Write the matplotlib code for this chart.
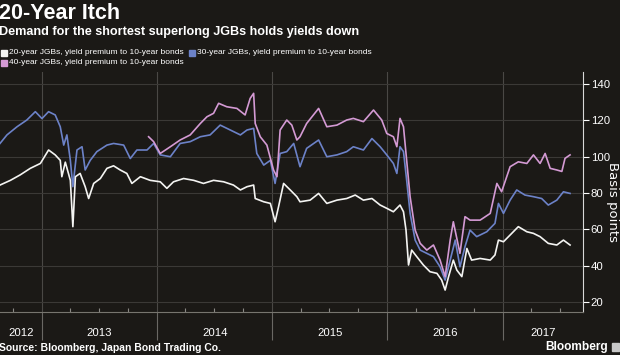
import matplotlib
matplotlib.use("Agg")
import matplotlib.pyplot as plt
import matplotlib.dates as mdates
import pandas as pd
from matplotlib.patches import Rectangle

# --- dados (pb) ---
white_dates = [
    "2012-08-21", "2012-09-23", "2012-10-24", "2012-11-25", "2012-12-27", "2013-01-22",
    "2013-02-12", "2013-02-28", "2013-03-05", "2013-03-16", "2013-04-01", "2013-04-09",
    "2013-04-17", "2013-05-02", "2013-05-18", "2013-05-29", "2013-06-14", "2013-07-05",
    "2013-07-26", "2013-08-16", "2013-09-06", "2013-09-27", "2013-10-13", "2013-11-09",
    "2013-12-10", "2014-01-11", "2014-02-01", "2014-02-22", "2014-03-26", "2014-04-27",
    "2014-05-28", "2014-06-29", "2014-07-31", "2014-08-31", "2014-09-22", "2014-10-13",
    "2014-11-03", "2014-11-08", "2014-12-05", "2014-12-26", "2015-01-10", "2015-01-21",
    "2015-02-06", "2015-02-27", "2015-03-20", "2015-03-30", "2015-05-01", "2015-05-28",
    "2015-06-23", "2015-07-25", "2015-08-25", "2015-09-21", "2015-10-17", "2015-11-13",
    "2015-12-09", "2015-12-30", "2016-01-20", "2016-02-10", "2016-02-21", "2016-02-29",
    "2016-03-08", "2016-03-18", "2016-04-03", "2016-04-24", "2016-05-15", "2016-06-06",
    "2016-06-21", "2016-07-02", "2016-07-13", "2016-07-28", "2016-08-08", "2016-08-24",
    "2016-09-09", "2016-09-24", "2016-10-21", "2016-11-22", "2016-12-07", "2016-12-18",
    "2017-01-03", "2017-01-24", "2017-02-19", "2017-03-18", "2017-04-08", "2017-04-29",
    "2017-05-25", "2017-06-21", "2017-07-12", "2017-08-02",
]
white_vals = [
    84.4, 87.0, 90.0, 93.6, 96.3, 103.7,
    101.0, 98.0, 89.0, 97.0, 87.0, 61.5,
    89.0, 90.8, 83.5, 77.0, 85.3, 88.0,
    93.6, 95.0, 92.7, 90.8, 85.3, 89.0,
    87.0, 86.2, 82.6, 86.2, 88.0, 87.0,
    85.3, 87.0, 86.2, 84.4, 81.7, 83.5,
    84.4, 77.0, 75.2, 74.3, 64.2, 72.5,
    85.3, 81.7, 78.0, 75.2, 76.1, 79.8,
    74.3, 76.1, 77.0, 78.9, 76.1, 77.0,
    73.4, 71.6, 69.7, 73.4, 69.7, 59.6,
    40.4, 48.6, 45.0, 40.4, 36.7, 35.8,
    32.1, 26.6, 34.0, 43.1, 37.6, 34.0,
    49.5, 43.1, 44.0, 43.1, 45.9, 54.1,
    53.2, 56.9, 61.5, 58.7, 57.8, 56.0,
    52.3, 51.4, 54.1, 51.4,
]

blue_dates = [
    "2012-08-21", "2012-09-12", "2012-10-14", "2012-11-14", "2012-12-11", "2013-01-01",
    "2013-01-22", "2013-02-12", "2013-02-28", "2013-03-11", "2013-03-21", "2013-04-01",
    "2013-04-09", "2013-04-22", "2013-05-08", "2013-05-18", "2013-06-03", "2013-06-24",
    "2013-07-26", "2013-08-16", "2013-09-17", "2013-10-08", "2013-10-29", "2013-11-30",
    "2013-12-21", "2014-01-11", "2014-02-12", "2014-03-15", "2014-04-16", "2014-05-18",
    "2014-06-18", "2014-07-20", "2014-08-21", "2014-09-22", "2014-10-13", "2014-11-03",
    "2014-11-13", "2014-12-05", "2014-12-26", "2015-01-10", "2015-01-26", "2015-02-16",
    "2015-03-10", "2015-03-30", "2015-04-20", "2015-05-28", "2015-06-23", "2015-07-25",
    "2015-08-25", "2015-09-15", "2015-10-17", "2015-11-13", "2015-12-09", "2015-12-30",
    "2016-01-20", "2016-01-31", "2016-02-10", "2016-02-21", "2016-03-02", "2016-03-13",
    "2016-03-29", "2016-04-14", "2016-05-05", "2016-05-26", "2016-06-16", "2016-07-02",
    "2016-07-18", "2016-08-03", "2016-08-18", "2016-09-03", "2016-09-19", "2016-10-10",
    "2016-11-11", "2016-12-07", "2016-12-18", "2017-01-03", "2017-01-24", "2017-02-14",
    "2017-03-12", "2017-04-08", "2017-05-04", "2017-05-25", "2017-06-21", "2017-07-12",
    "2017-08-02",
]
blue_vals = [
    107.3, 112.0, 116.5, 120.2, 124.8, 121.0,
    124.8, 123.0, 116.5, 106.4, 112.0, 98.0,
    83.5, 103.7, 105.5, 92.7, 98.0, 102.8,
    106.4, 107.3, 106.4, 99.0, 103.7, 103.7,
    107.3, 101.0, 100.0, 107.3, 108.3, 111.0,
    112.0, 117.4, 114.7, 112.0, 114.7, 115.6,
    101.8, 95.4, 98.0, 85.3, 101.8, 102.8,
    107.3, 94.5, 104.6, 109.2, 100.0, 101.0,
    102.8, 105.5, 103.7, 110.0, 105.5, 101.0,
    96.3, 90.8, 105.5, 102.8, 87.2, 68.8,
    54.1, 48.6, 46.8, 45.0, 39.4, 32.1,
    43.1, 54.1, 39.4, 50.5, 59.6, 56.0,
    58.7, 63.3, 74.3, 68.8, 76.1, 81.7,
    78.9, 78.0, 77.0, 73.4, 76.1, 80.7,
    79.8,
]

pink_dates = [
    "2013-12-05", "2013-12-21", "2014-01-11", "2014-02-12", "2014-03-15", "2014-04-16",
    "2014-05-18", "2014-06-08", "2014-06-29", "2014-07-15", "2014-08-10", "2014-09-11",
    "2014-10-07", "2014-10-23", "2014-11-03", "2014-11-08", "2014-11-24", "2014-12-15",
    "2015-01-05", "2015-01-16", "2015-01-26", "2015-02-16", "2015-03-04", "2015-03-20",
    "2015-03-30", "2015-04-20", "2015-05-28", "2015-06-23", "2015-07-25", "2015-08-25",
    "2015-09-15", "2015-10-17", "2015-11-18", "2015-12-14", "2015-12-30", "2016-01-20",
    "2016-01-31", "2016-02-10", "2016-02-21", "2016-02-29", "2016-03-13", "2016-03-29",
    "2016-04-14", "2016-05-05", "2016-05-26", "2016-06-16", "2016-07-02", "2016-07-18",
    "2016-07-28", "2016-08-18", "2016-09-03", "2016-09-19", "2016-10-21", "2016-11-22",
    "2016-12-13", "2016-12-28", "2017-01-24", "2017-02-19", "2017-03-18", "2017-04-08",
    "2017-04-29", "2017-05-15", "2017-05-31", "2017-06-21", "2017-07-07", "2017-07-17",
    "2017-08-02",
]
pink_vals = [
    111.0, 108.3, 101.8, 105.5, 109.2, 112.0,
    118.3, 122.0, 123.9, 129.4, 127.5, 126.6,
    123.0, 132.1, 134.9, 118.3, 111.0, 106.4,
    92.7, 89.0, 114.7, 120.2, 117.4, 109.2,
    111.0, 118.3, 126.6, 116.5, 117.4, 120.2,
    121.1, 119.3, 125.7, 120.2, 112.8, 111.0,
    105.5, 121.1, 116.5, 101.8, 78.0, 59.6,
    52.3, 48.6, 51.4, 43.1, 34.0, 54.1,
    64.2, 46.8, 67.0, 65.1, 65.1, 68.8,
    85.3, 80.7, 94.5, 97.2, 96.3, 101.0,
    96.3, 101.8, 93.6, 92.7, 91.9, 99.1,
    101.0,
]

years = [2012, 2013, 2014, 2015, 2016, 2017]
yticks = [20, 40, 60, 80, 100, 120, 140]
labels = [
    "20-year JGBs, yield premium to 10-year bonds",
    "30-year JGBs, yield premium to 10-year bonds",
    "40-year JGBs, yield premium to 10-year bonds",
]

BG = "#1b1916"
C_WHITE = "#f4f4f2"
C_BLUE = "#6c82c8"
C_PINK = "#d49ad4"
GRID = "#3b3936"

plt.rcParams["font.family"] = ["Liberation Sans", "DejaVu Sans"]

fig = plt.figure(figsize=(6.2, 3.55), dpi=100, facecolor=BG)
ax = fig.add_axes([0.0, 0.121, 0.9403, 0.676])
ax.set_facecolor(BG)

ax.plot(pd.to_datetime(blue_dates), blue_vals, color=C_BLUE, lw=1.2)
ax.plot(pd.to_datetime(pink_dates), pink_vals, color=C_PINK, lw=1.2)
ax.plot(pd.to_datetime(white_dates), white_vals, color=C_WHITE, lw=1.2)

ax.set_xlim(pd.Timestamp("2012-08-21"), pd.Timestamp("2017-09-12"))
ax.set_ylim(14.5, 146.6)

# eixo y à direita
ax.yaxis.tick_right()
ax.set_yticks(yticks)
ax.tick_params(axis="y", colors="white", labelcolor="white", labelsize=8.2,
               length=4, width=0.8, pad=1.5)
ax.grid(axis="y", color=GRID, lw=0.8)

# eixo x: divisões anuais longas, trimestres curtos
ax.xaxis.set_major_locator(mdates.YearLocator())
ax.xaxis.set_minor_locator(mdates.MonthLocator(bymonth=[4, 7, 10]))
ax.xaxis.set_major_formatter(plt.NullFormatter())
ax.tick_params(axis="x", which="major", direction="out", length=20, width=0.8, color="#6a6864")
ax.tick_params(axis="x", which="minor", direction="in", length=3, width=0.8, color="#8a8884")
ax.grid(axis="x", which="major", color="#4a4845", lw=0.8)

for s in ["top", "left"]:
    ax.spines[s].set_visible(False)
ax.spines["right"].set_color("#d8d8d8")
ax.spines["bottom"].set_color("#77756f")
ax.set_axisbelow(True)

# rótulos dos anos centrados na parte visível de cada ano
x0, x1 = ax.get_xlim()
for yr in years:
    a = max(mdates.date2num(pd.Timestamp(f"{yr}-01-01")), x0)
    b = min(mdates.date2num(pd.Timestamp(f"{yr + 1}-01-01")), x1)
    ax.text((a + b) / 2, -0.088, str(yr), transform=ax.get_xaxis_transform(),
            ha="center", va="center", color="white", fontsize=8.2)

fig.text(613 / 620, 1 - 202 / 355, "Basis points", rotation=270, ha="center",
         va="center", color="white", fontsize=9.5, family="DejaVu Sans")

# títulos
fig.text(-0.002, 1 - 13.5 / 355, "20-Year Itch", color="white", fontsize=15.5,
         fontweight="bold", ha="left", va="center")
fig.text(-0.002, 1 - 32 / 355, "Demand for the shortest superlong JGBs holds yields down",
         color="white", fontsize=9.1, fontweight="bold", ha="left", va="center")

# legenda manual
leg = [(1, 52.7, C_WHITE, labels[0]), (189, 52.7, C_BLUE, labels[1]), (1, 62.7, C_PINK, labels[2])]
for px, py, col, txt in leg:
    fig.patches.append(Rectangle((px / 620, 1 - (py + 3) / 355), 6 / 620, 6 / 355,
                                 transform=fig.transFigure, color=col))
    fig.text((px + 8) / 620, 1 - py / 355, txt, color="white", fontsize=6.0,
             ha="left", va="center")

fig.text(-0.002, 1 - 348 / 355, "Source: Bloomberg, Japan Bond Trading Co.", color="white",
         fontsize=7.5, fontweight="bold", ha="left", va="center")
fig.text(608 / 620, 1 - 347 / 355, "Bloomberg", color="white", fontsize=8.6,
         fontweight="bold", ha="right", va="center")
fig.patches.append(Rectangle((612 / 620, 1 - 351 / 355), 7 / 620, 8 / 355,
                             transform=fig.transFigure, color="#c8c8c8"))

fig.savefig("out.png", dpi=100, facecolor=BG)
